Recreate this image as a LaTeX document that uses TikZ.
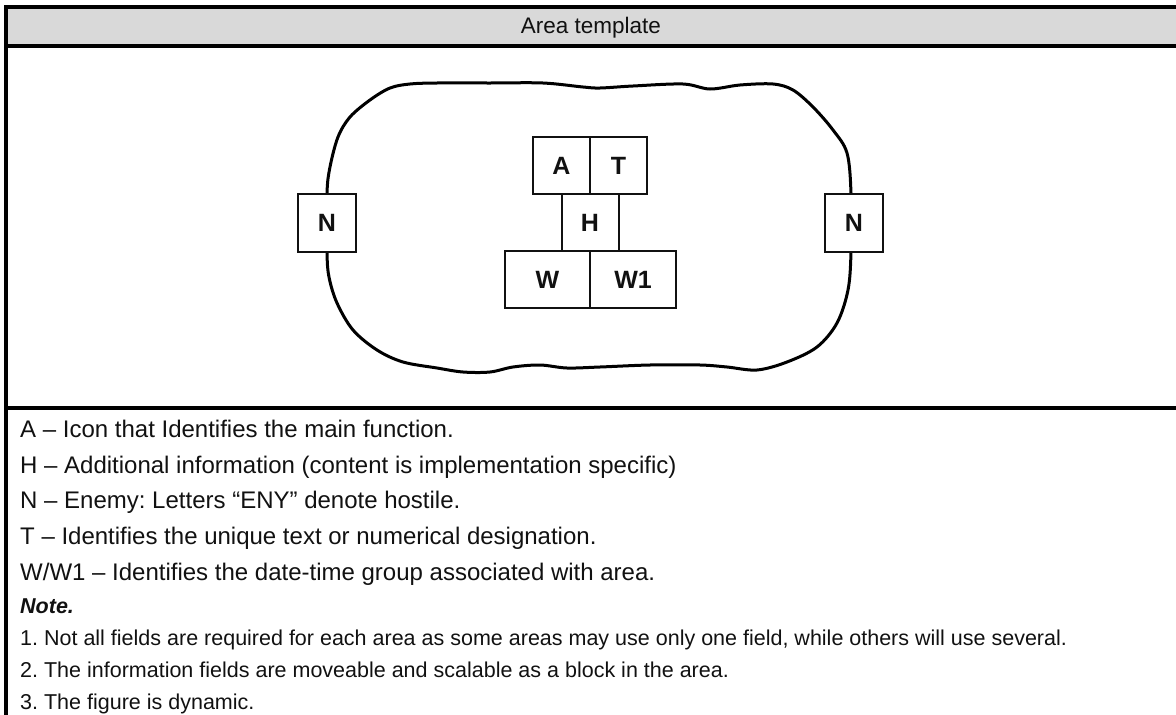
\documentclass[tikz,border=0pt]{standalone}
\usepackage{fontspec}
\setmainfont{Liberation Sans}
\usetikzlibrary{positioning}
\definecolor{headbg}{HTML}{D9D9D9}
\definecolor{ink}{HTML}{111111}
\frenchspacing

\begin{document}
\begin{tikzpicture}[x=1pt,y=-1pt,
  frame/.style={draw=black,line width=3.5pt},
  blob/.style={draw=black,line width=3pt,line join=round},
  fld/.style={draw=ink,line width=2pt,fill=white,minimum width=57pt,minimum height=57pt,
              inner sep=0pt,outer sep=0pt,font=\fontsize{25}{25}\selectfont\bfseries,text=ink},
  leg/.style={anchor=base west,inner sep=0pt,font=\fontsize{24}{26}\selectfont,text=ink},
  note/.style={anchor=base west,inner sep=0pt,font=\fontsize{21.5}{24}\selectfont,text=ink}
]
\useasboundingbox (0,0) rectangle (1176,715);

% table frame, cut off at the right and bottom
\fill[headbg] (6,7) rectangle (1180,46);
\draw[frame] (1180,7) -- (6,7) -- (6,720);
\draw[frame] (6,46) -- (1180,46);
\draw[frame] (6,408) -- (1180,408);
\node[inner sep=0pt,font=\fontsize{22.5}{24}\selectfont,text=ink,anchor=base] (title) at (591,33) {Area template};

% area outline
\draw[blob] plot[smooth cycle,tension=0.55] coordinates {
  (327,193) (330,167) (338,137) (350,117) (370,100) (390,88) (410,84) (437,83)
  (490,83) (543,83) (583,87) (600,88) (633,86) (683,84) (710,89) (740,85)
  (773,84) (793,90) (813,107) (833,130) (847,153) (851,193) (851,252) (848,290)
  (837,323) (817,347) (787,362) (757,370) (727,367) (700,365) (650,365) (600,367)
  (567,368) (540,365) (513,367) (490,372) (463,372) (437,368) (403,362) (377,350)
  (353,330) (337,303) (329,277) (327,252)};

% enemy fields on the outline
\node[fld,minimum size=58pt] (nl) at (327,223) {N};
\node[fld,minimum size=58pt] (nr) at (854,223) {N};

% information block
\node[fld] (fa) at (561.5,165.5) {A};
\node[fld,right=0pt of fa] (ft) {T};
\node[fld,below=0pt of fa.south east] (fh) {H};
\node[fld,minimum width=85pt,below left=0pt and 0pt of fh.south] (fw) {W};
\node[fld,minimum width=86pt,below right=0pt and 0pt of fh.south] (fw1) {W1};

% legend
\node[leg] (la) at (20,437) {A – Icon that Identifies the main function.};
\node[leg] (lh) at (20,473) {H – Additional information (content is implementation specific)};
\node[leg] (ln) at (20,508) {N – Enemy: Letters “ENY” denote hostile.};
\node[leg] (lt) at (20,544) {T – Identifies the unique text or numerical designation.};
\node[leg] (lw) at (20,580) {W/W1 – Identifies the date-time group associated with area.};
\node[note,font=\fontsize{21.5}{24}\selectfont\bfseries\itshape] (nt) at (20,613) {Note.};
\node[note] (n1) at (20,645) {1. Not all fields are required for each area as some areas may use only one field, while others will use several.};
\node[note] (n2) at (20,677) {2. The information fields are moveable and scalable as a block in the area.};
\node[note] (n3) at (20,709) {3. The figure is dynamic.};
\end{tikzpicture}
\end{document}
